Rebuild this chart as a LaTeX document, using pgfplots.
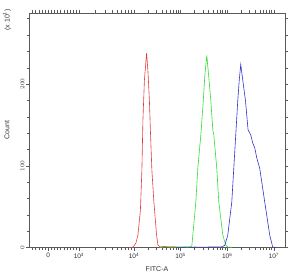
\documentclass[border=0pt]{standalone}
\usepackage{pgfplots}
\pgfplotsset{compat=1.18}
\usepackage{fontspec}
\setmainfont{Liberation Sans}
\definecolor{cred}{RGB}{228,60,60}
\definecolor{cgreen}{RGB}{50,220,50}
\definecolor{cblue}{RGB}{50,50,200}
\definecolor{axgray}{RGB}{90,90,90}
\definecolor{txt}{RGB}{50,50,50}
\begin{document}
\begin{tikzpicture}[x=1pt,y=1pt]
\begin{axis}[
  name=ax,
  scale only axis,
  width=256pt, height=234.7pt,
  xmin=1.75, xmax=7.24,
  ymin=0, ymax=287,
  axis line style={axgray, line width=0.6pt},
  every tick/.style={axgray, line width=0.5pt},
  tick align=outside,
  major tick length=3pt,
  minor tick length=2.5pt,
  xtick={2.16,2.82,4,5,6,7},
  xticklabels={0,10\textsuperscript{3},10\textsuperscript{4},10\textsuperscript{5},10\textsuperscript{6},10\textsuperscript{7}},
  minor xtick={1.82,1.89,1.96,2.03,2.09,2.23,2.30,2.36,2.43,2.50,2.56,2.63,2.70,2.76,
    3.175,3.383,3.530,3.645,3.738,3.817,3.886,3.946,
    4.301,4.477,4.602,4.699,4.778,4.845,4.903,4.954,
    5.301,5.477,5.602,5.699,5.778,5.845,5.903,5.954,
    6.301,6.477,6.602,6.699,6.778,6.845,6.903,6.954},
  ytick={0,100,200},
  minor ytick={20,40,60,80,120,140,160,180,220,240,260,280},
  yticklabel style={rotate=90, anchor=south, font=\fontsize{6.5}{7}\selectfont, text=txt, inner sep=1.5pt},
  xticklabel style={font=\fontsize{6.5}{7}\selectfont, text=txt, inner sep=2pt},
  clip=false,
]
\addplot[cred, line width=0.6pt] coordinates {
(3.90,0.3)(3.979,0.6)(4.043,5.7)(4.086,15.5)(4.139,46)(4.171,95)(4.193,156)(4.225,205)(4.272,238)
(4.300,217)(4.332,180)(4.353,144)(4.385,95)(4.428,56)(4.486,15.5)(4.514,3.3)(4.557,1.0)(4.65,1.5)(4.75,0.8)(4.85,1.2)(4.95,0.5)
};
\addplot[cgreen, line width=0.6pt] coordinates {
(4.55,0.3)(4.70,1.2)(4.85,0.6)(5.00,1.0)(5.10,0.8)(5.199,1.0)(5.242,2)(5.263,15.5)(5.328,56)(5.370,97)(5.435,138)(5.488,180)(5.520,210)(5.563,235)
(5.606,208)(5.649,180)(5.692,144)(5.713,138)(5.777,97)(5.820,56)(5.906,15.5)(5.970,3)(6.013,0.8)(6.10,0.5)
};
\addplot[cblue, line width=0.6pt] coordinates {
(4.90,0.3)(5.10,0.6)(5.30,0.8)(5.50,0.7)(5.70,0.9)(5.884,1.0)(5.949,3)(6.013,15.5)(6.099,56)(6.184,138)(6.227,180)(6.259,205)(6.291,224)
(6.334,205)(6.392,180)(6.448,144)(6.505,138)(6.548,128)(6.591,122)(6.634,110)(6.698,97)(6.805,56)(6.912,15.5)(6.976,0.8)(7.05,0.3)
};
\end{axis}
\node[rotate=90, text=txt, font=\fontsize{7}{8}\selectfont] at ([xshift=-22pt]ax.west) {Count};
\node[rotate=90, text=txt, font=\fontsize{7}{8}\selectfont] at ([xshift=-22pt,yshift=-7pt]ax.north west) {(x 10\textsuperscript{1})};
\node[text=txt, font=\fontsize{7}{8}\selectfont] at ([yshift=-21.5pt]ax.south) {FITC-A};
\pgfresetboundingbox
\path ([xshift=-29pt,yshift=-27.3pt]ax.south west) rectangle ([xshift=4pt,yshift=13pt]ax.north east);
\end{tikzpicture}
\end{document}
